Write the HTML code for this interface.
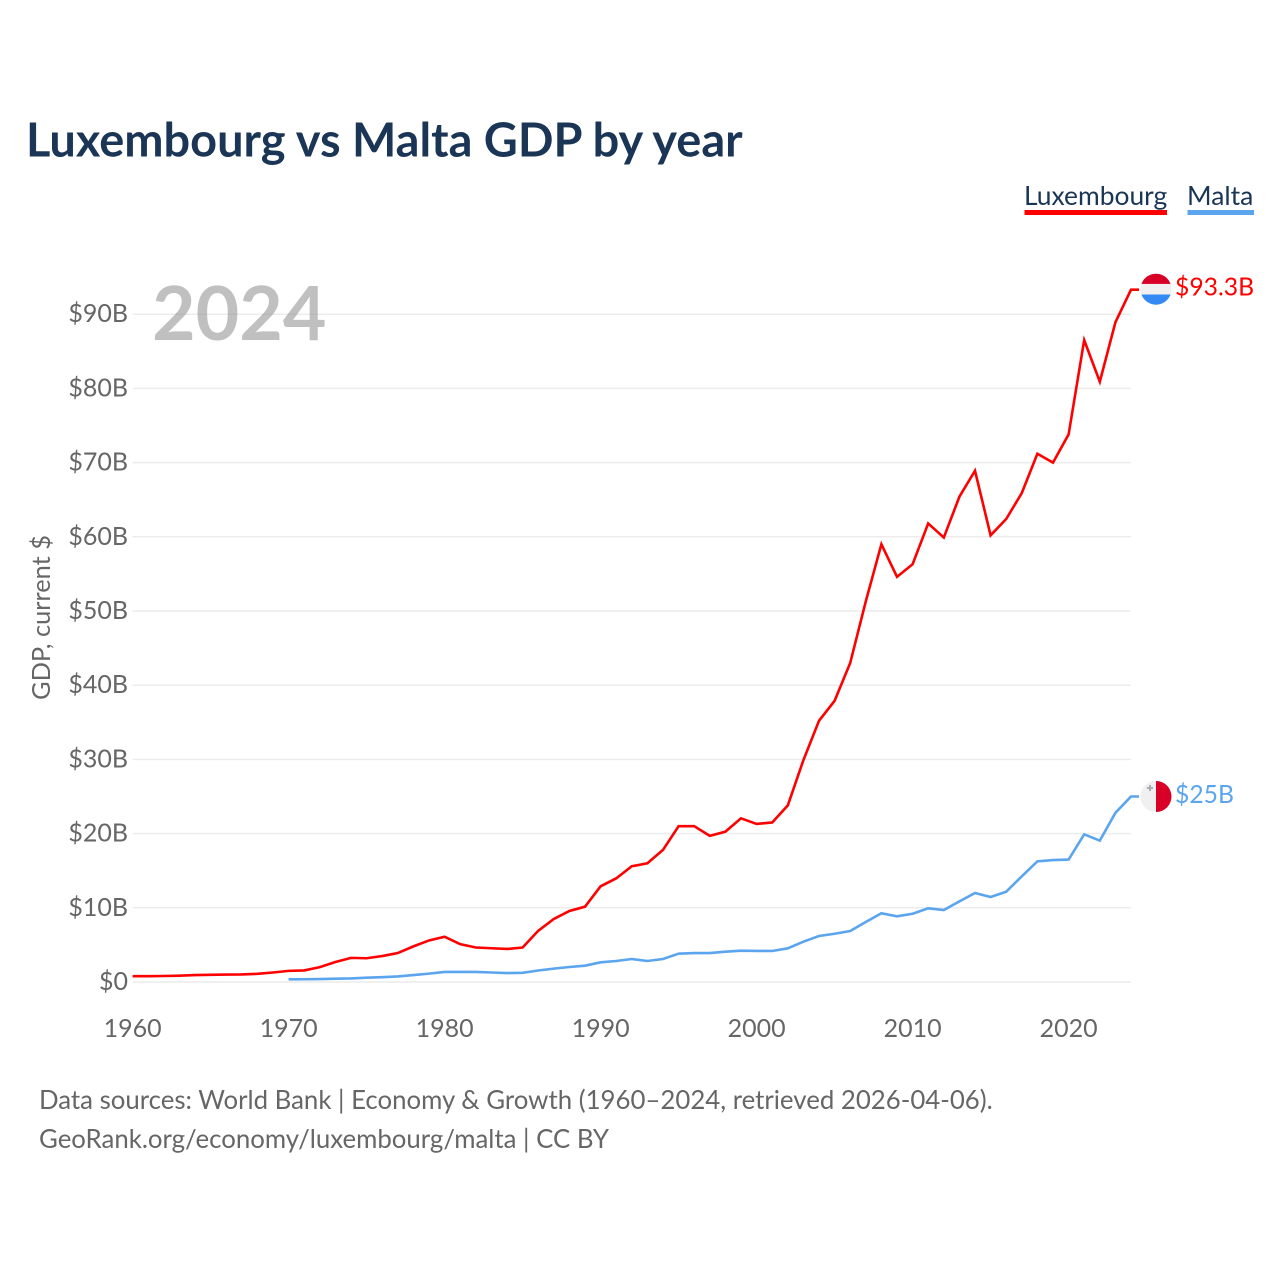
<!DOCTYPE html>
<html lang="en">
<head>
<meta charset="utf-8">
<title>Luxembourg vs Malta GDP by year</title>
<style>
html,body{margin:0;padding:0;background:#fff;width:1280px;height:1280px;overflow:hidden}
svg{display:block}
text{font-family:"Lato","Carlito","Liberation Sans",sans-serif}
</style>
</head>
<body>
<svg id="chart" width="1280" height="1280" viewBox="0 0 1280 1280" xmlns="http://www.w3.org/2000/svg">
  <defs>
    <clipPath id="flag-clip-lu"><circle cx="0" cy="0" r="15.5"/></clipPath>
    <clipPath id="flag-clip-mt"><circle cx="0" cy="0" r="15.5"/></clipPath>
  </defs>
  <rect x="0" y="0" width="1280" height="1280" fill="#fff"/>
  <text x="26" y="156.5" font-size="46.9" font-weight="700" fill="#1a3555">Luxembourg vs Malta GDP by year</text>

  <g>
    <text x="1024" y="205" font-size="26.4" fill="#1a3555">Luxembourg</text>
    <rect x="1024.5" y="210" width="142.5" height="5" fill="#ff0000"/>
  </g>
  <g>
    <text x="1187" y="205" font-size="26.5" fill="#1a3555">Malta</text>
    <rect x="1187.5" y="210" width="66.5" height="5" fill="#5ba4ee"/>
  </g>

  <g id="grid"></g>
  <text x="152" y="340" font-size="75.2" font-weight="700" fill="#8c8c8c" fill-opacity="0.55">2024</text>
  <g id="y-ticks"></g>
  <g id="x-ticks"></g>
  <text transform="translate(50,617.5) rotate(-90)" text-anchor="middle" font-size="25.4" fill="#666">GDP, current $</text>
  <g id="series"></g>

  <g id="flag-lu">
    <g clip-path="url(#flag-clip-lu)">
      <rect x="-16" y="-16" width="32" height="32" fill="#f0f0f0"/>
      <rect x="-16" y="-16" width="32" height="10.7" fill="#d80027"/>
      <rect x="-16" y="5.3" width="32" height="10.7" fill="#338af3"/>
    </g>
  </g>
  <g id="flag-mt">
    <g clip-path="url(#flag-clip-mt)">
      <rect x="-16" y="-16" width="16" height="32" fill="#f0f0f0"/>
      <rect x="0" y="-16" width="16" height="32" fill="#d80027"/>
      <path d="M-7 -11.5h2v2h2v2h-2v2h-2v-2h-2v-2h2z" fill="#acabb1"/>
    </g>
  </g>
  <text id="label-lu" x="1175" font-size="24.7" fill="#ff0000">$93.3B</text>
  <text id="label-mt" x="1175" font-size="24.7" fill="#5ba4ee">$25B</text>

  <text x="39" y="1109" font-size="25.8" fill="#666">Data sources: World Bank | Economy &amp; Growth (1960–2024, retrieved 2026-04-06).</text>
  <text x="39" y="1148" font-size="25.8" fill="#666">GeoRank.org/economy/luxembourg/malta | CC BY</text>
</svg>
<script>
const luxYears = [1960,1961,1962,1963,1964,1965,1966,1967,1968,1969,1970,1971,1972,1973,1974,1975,1976,1977,1978,1979,1980,1981,1982,1983,1984,1985,1986,1987,1988,1989,1990,1991,1992,1993,1994,1995,1996,1997,1998,1999,2000,2001,2002,2003,2004,2005,2006,2007,2008,2009,2010,2011,2012,2013,2014,2015,2016,2017,2018,2019,2020,2021,2022,2023,2024];
const luxValues = [0.78,0.79,0.81,0.85,0.93,0.97,1.0,1.02,1.1,1.28,1.5,1.56,2.0,2.7,3.25,3.2,3.5,3.9,4.8,5.6,6.1,5.1,4.65,4.55,4.45,4.65,6.9,8.5,9.57,10.15,12.9,13.97,15.6,16.0,17.8,21.0,21.0,19.7,20.26,22.06,21.3,21.5,23.8,29.9,35.2,37.9,43.0,51.3,59.0,54.6,56.3,61.8,59.9,65.4,68.9,60.2,62.4,65.9,71.2,70.0,73.8,86.5,80.9,88.9,93.3];
const maltaYears = [1970,1971,1972,1973,1974,1975,1976,1977,1978,1979,1980,1981,1982,1983,1984,1985,1986,1987,1988,1989,1990,1991,1992,1993,1994,1995,1996,1997,1998,1999,2000,2001,2002,2003,2004,2005,2006,2007,2008,2009,2010,2011,2012,2013,2014,2015,2016,2017,2018,2019,2020,2021,2022,2023,2024];
const maltaValues = [0.36,0.37,0.40,0.45,0.48,0.58,0.65,0.75,0.93,1.13,1.36,1.35,1.35,1.28,1.20,1.24,1.55,1.8,2.02,2.2,2.65,2.83,3.1,2.83,3.1,3.82,3.9,3.9,4.09,4.22,4.18,4.18,4.54,5.43,6.2,6.5,6.87,8.09,9.26,8.85,9.2,9.93,9.7,10.87,12.0,11.45,12.17,14.24,16.26,16.44,16.5,19.9,19.05,22.8,25.0];
const yTickValues = [0,10,20,30,40,50,60,70,80,90];
const xTickValues = [1960,1970,1980,1990,2000,2010,2020];
const luxEndLabel = "$93.3B";
const maltaEndLabel = "$25B";

const NS = "http://www.w3.org/2000/svg";
const xScale = function (year) { return 132.6 + (year - 1960) * 15.6; };
const yScale = function (value) { return 982 - value * 7.42; };

const gridGroup = document.getElementById("grid");
const yGroup = document.getElementById("y-ticks");
const xGroup = document.getElementById("x-ticks");
const seriesGroup = document.getElementById("series");

yTickValues.forEach(function (v) {
  const line = document.createElementNS(NS, "line");
  
  
  line.setAttribute("x1", xScale(1960));
  line.setAttribute("x2", xScale(2024));
  line.setAttribute("y1", yScale(v));
  line.setAttribute("y2", yScale(v));
  line.setAttribute("stroke", "#ececec");
  line.setAttribute("stroke-width", "1.5");
  gridGroup.appendChild(line);

  const label = document.createElementNS(NS, "text");
  
  
  label.setAttribute("x", 128);
  label.setAttribute("y", yScale(v) + 8);
  label.setAttribute("text-anchor", "end");
  label.setAttribute("font-size", "25");
  label.setAttribute("fill", "#666");
  label.textContent = v === 0 ? "$0" : "$" + v + "B";
  yGroup.appendChild(label);
});

xTickValues.forEach(function (year) {
  const label = document.createElementNS(NS, "text");
  
  
  label.setAttribute("x", xScale(year));
  label.setAttribute("y", 1037);
  label.setAttribute("text-anchor", "middle");
  label.setAttribute("font-size", "25");
  label.setAttribute("fill", "#666");
  label.textContent = String(year);
  xGroup.appendChild(label);
});

function pointsFor(years, values) {
  const pts = years.map(function (year, i) {
    return xScale(year).toFixed(2) + "," + yScale(values[i]).toFixed(2);
  });
  const last = values[values.length - 1];
  pts.push("1139," + yScale(last).toFixed(2));
  return pts.join(" ");
}

const maltaLine = document.createElementNS(NS, "polyline");


maltaLine.setAttribute("points", pointsFor(maltaYears, maltaValues));
maltaLine.setAttribute("fill", "none");
maltaLine.setAttribute("stroke", "#5ba4ee");
maltaLine.setAttribute("stroke-width", "2.6");
seriesGroup.appendChild(maltaLine);

const luxLine = document.createElementNS(NS, "polyline");


luxLine.setAttribute("points", pointsFor(luxYears, luxValues));
luxLine.setAttribute("fill", "none");
luxLine.setAttribute("stroke", "#ff0000");
luxLine.setAttribute("stroke-width", "2.6");
seriesGroup.appendChild(luxLine);

const luxEndY = yScale(luxValues[luxValues.length - 1]);
const maltaEndY = yScale(maltaValues[maltaValues.length - 1]);
document.getElementById("flag-lu").setAttribute("transform", "translate(1156," + (luxEndY - 0.5) + ")");
document.getElementById("flag-mt").setAttribute("transform", "translate(1156," + maltaEndY + ")");
const luxLabel = document.getElementById("label-lu");
luxLabel.setAttribute("y", luxEndY + 6);
luxLabel.textContent = luxEndLabel;
const maltaLabel = document.getElementById("label-mt");
maltaLabel.setAttribute("y", maltaEndY + 6.5);
maltaLabel.textContent = maltaEndLabel;
</script>
</body>
</html>
